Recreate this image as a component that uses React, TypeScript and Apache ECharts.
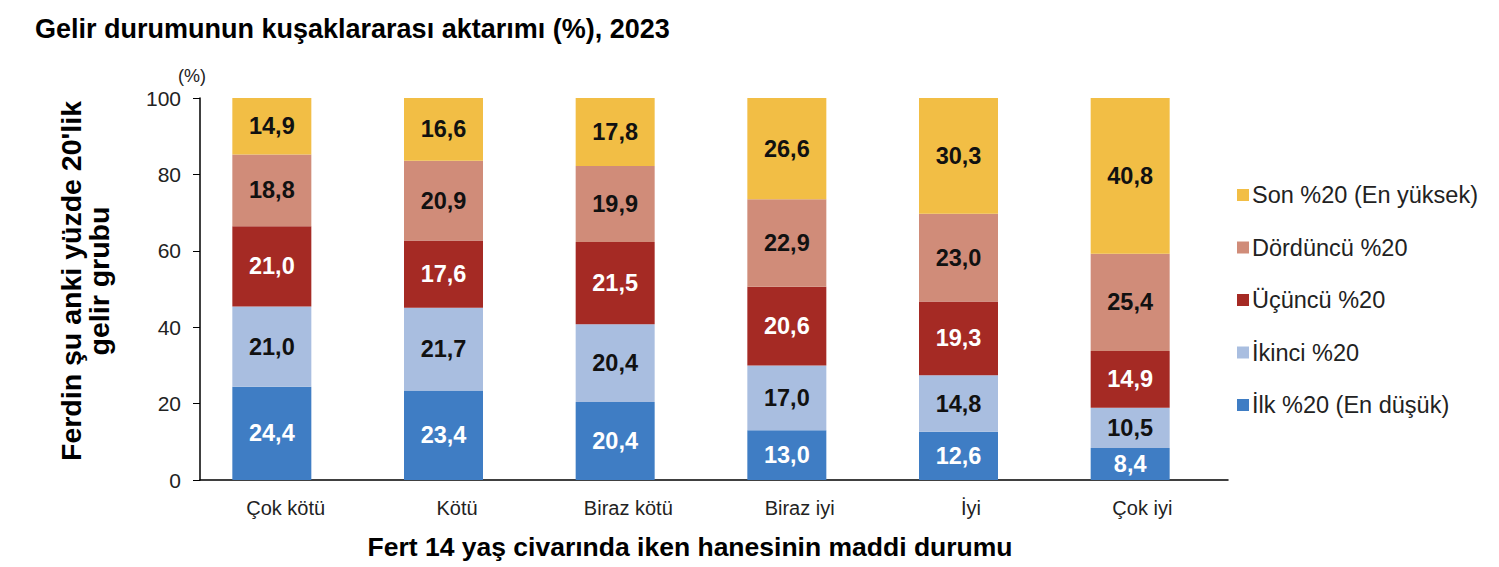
import React, { useEffect, useRef } from "react";
import * as echarts from "echarts";

const categories = ["Çok kötü", "Kötü", "Biraz kötü", "Biraz iyi", "İyi", "Çok iyi"];
const seriesNames = [
  "İlk %20 (En düşük)",
  "İkinci %20",
  "Üçüncü %20",
  "Dördüncü %20",
  "Son %20 (En yüksek)",
];
const ilk = [24.4, 23.4, 20.4, 13.0, 12.6, 8.4];
const ikinci = [21.0, 21.7, 20.4, 17.0, 14.8, 10.5];
const ucuncu = [21.0, 17.6, 21.5, 20.6, 19.3, 14.9];
const dorduncu = [18.8, 20.9, 19.9, 22.9, 23.0, 25.4];
const son = [14.9, 16.6, 17.8, 26.6, 30.3, 40.8];
const seriesValues = [ilk, ikinci, ucuncu, dorduncu, son];
const colors = ["#3F7DC4", "#A9BEE0", "#A52A24", "#D08C79", "#F2BE45"];
const labelColors = ["#ffffff", "#111111", "#ffffff", "#111111", "#111111"];

const FONT = "'Liberation Sans', Arial, sans-serif";

export default function App() {
  const ref = useRef<HTMLDivElement>(null);
  useEffect(() => {
    if (!ref.current) return;
    const chart = echarts.init(ref.current, undefined, { renderer: "svg" });
    chart.setOption({
      animation: false,
      backgroundColor: "#ffffff",
      textStyle: { fontFamily: FONT },
      title: {
        text: "Gelir durumunun kuşaklararası aktarımı (%), 2023",
        left: 35,
        top: 15,
        padding: 0,
        textStyle: { fontFamily: FONT, fontSize: 27, fontWeight: "bold", color: "#000" },
      },
      legend: {
        orient: "vertical",
        left: 1237,
        top: 183,
        itemGap: 28.5,
        itemWidth: 12,
        itemHeight: 12,
        padding: 0,
        icon: "rect",
        data: [...seriesNames].reverse(),
        textStyle: { fontFamily: FONT, fontSize: 23.5, color: "#222", padding: [0, 0, 0, -2] },
      },
      grid: [
        // grid for the bars
        { left: 186, top: 98, width: 1030, height: 382, containLabel: false, outerBoundsMode: "none" },
        // grid for the visible axes
        { left: 200, top: 98, width: 1028, height: 382, containLabel: false, outerBoundsMode: "none" },
      ],
      xAxis: [
        {
          type: "category",
          gridIndex: 0,
          data: categories,
          show: false,
        },
        {
          type: "category",
          gridIndex: 1,
          data: categories,
          axisLine: { show: true, lineStyle: { color: "#000", width: 1.5 } },
          axisTick: { show: false },
          axisLabel: { fontFamily: FONT, fontSize: 20, color: "#222", margin: 18 },
          name: "Fert 14 yaş civarında iken hanesinin maddi durumu",
          nameLocation: "middle",
          nameGap: 53,
          nameTextStyle: {
            fontFamily: FONT,
            fontSize: 26.5,
            fontWeight: "bold",
            color: "#000",
            padding: [0, 48, 0, 0],
          },
        },
      ],
      yAxis: [
        {
          type: "value",
          gridIndex: 0,
          min: 0,
          max: 100,
          interval: 20,
          show: false,
        },
        {
          type: "value",
          gridIndex: 1,
          min: 0,
          max: 100,
          interval: 20,
          splitLine: { show: false },
          axisLine: { show: true, lineStyle: { color: "#000", width: 1.5 } },
          axisTick: { show: true, inside: false, length: 7, lineStyle: { color: "#000" } },
          axisLabel: { fontFamily: FONT, fontSize: 21, color: "#222", margin: 19 },
          name: "Ferdin şu anki yüzde 20'lik\ngelir grubu",
          nameLocation: "middle",
          nameGap: 87,
          nameRotate: 90,
          nameTextStyle: {
            fontFamily: FONT,
            fontSize: 28.5,
            fontWeight: "bold",
            color: "#000",
            lineHeight: 28,
            padding: [0, 0, 0, 16],
          },
        },
      ],
      graphic: [
        {
          type: "text",
          x: 192,
          y: 76,
          style: {
            text: "(%)",
            fontFamily: FONT,
            fontSize: 18,
            fill: "#222",
            align: "center",
            verticalAlign: "middle",
          },
        },
      ],
      series: seriesValues.map((vals, i) => ({
        name: seriesNames[i],
        type: "bar",
        stack: "total",
        xAxisIndex: 0,
        yAxisIndex: 0,
        barWidth: 79,
        data: vals,
        itemStyle: { color: colors[i] },
        label: {
          show: true,
          position: "inside",
          fontFamily: FONT,
          fontSize: 23.5,
          fontWeight: "bold",
          color: labelColors[i],
          formatter: (p: any) => Number(p.value).toFixed(1).replace(".", ","),
        },
      })),
    });
    return () => chart.dispose();
  }, []);
  return (
    <div
      ref={ref}
      style={{ position: "fixed", left: 0, top: 0, width: 1499, height: 567 }}
    />
  );
}
